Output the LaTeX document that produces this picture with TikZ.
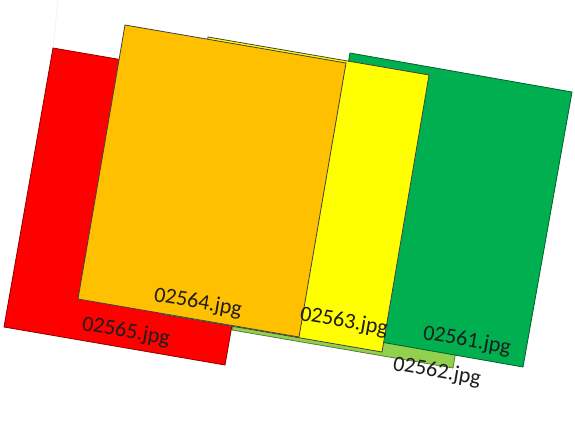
\documentclass[tikz,border=0pt]{standalone}
\usepackage{fontspec}
\setmainfont{Carlito}
\definecolor{cRed}{HTML}{FF0000}
\definecolor{cOrange}{HTML}{FFC000}
\definecolor{cYellow}{HTML}{FFFF00}
\definecolor{cDGreen}{HTML}{00B050}
\definecolor{cLGreen}{HTML}{92D050}
\definecolor{cText}{HTML}{1E1E1E}
\tikzset{
  card/.style={line width=0.8pt, line join=miter},
  lbl/.style={text=cText, font=\fontsize{22}{26}\selectfont, rotate=-9.8, inner sep=0pt}
}
\begin{document}
\begin{tikzpicture}[x=1pt,y=-1pt]
\useasboundingbox (0,0) rectangle (575,420);
\fill[white] (0,0) rectangle (575,420);
\draw[black!6, line width=0.6pt] (58,0) -- (53,48);
% light green 02562
\filldraw[card, fill=cLGreen, draw=cLGreen!60!black] (279,55) -- (500,93) -- (453,368) -- (232,330) -- cycle;
% red 02565
\filldraw[card, fill=cRed, draw=cRed!55!black] (53,48) -- (274,86) -- (225,365) -- (4,327) -- cycle;
% dark green 02561
\filldraw[card, fill=cDGreen, draw=cDGreen!55!black] (350,53) -- (572,92) -- (523,367) -- (301,328) -- cycle;
% yellow 02563
\filldraw[card, fill=cYellow, draw=black!75] (208,37) -- (429,75) -- (382,352) -- (161,314) -- cycle;
% orange 02564
\filldraw[card, fill=cOrange, draw=black!75] (125,25) -- (346,63) -- (299,337) -- (78,299) -- cycle;
% labels
\node[lbl] (l65) at (126,332) {02565.jpg};
\node[lbl] (l64) at (198,303) {02564.jpg};
\node[lbl] (l63) at (344,322) {02563.jpg};
\node[lbl] (l61) at (467,341) {02561.jpg};
\node[lbl] (l62) at (437,372) {02562.jpg};
\end{tikzpicture}
\end{document}
